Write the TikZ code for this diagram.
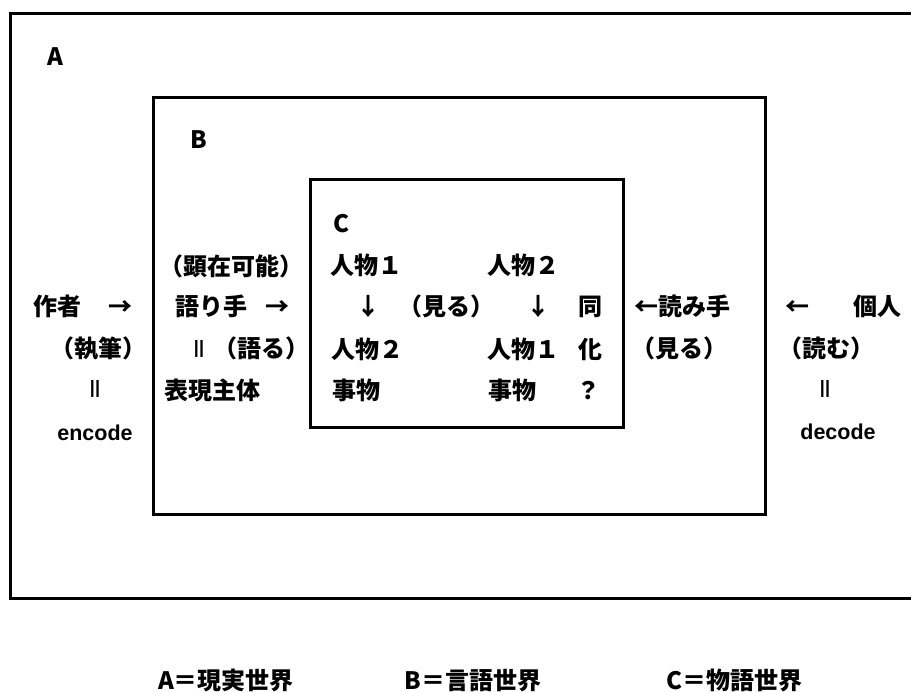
\documentclass[tikz,border=0pt]{standalone}
\usepackage{fontspec}
\setmainfont{Noto Sans CJK JP}
\newfontfamily\latfont{Liberation Sans}
\begin{document}
\begin{tikzpicture}[x=1pt,y=-1pt,
  box/.style={draw=black,line width=3pt},
  jt/.style={inner sep=0pt,font=\fontsize{24}{24}\selectfont\bfseries,text height=21pt,text depth=3pt},
  lt/.style={inner sep=0pt,font=\fontsize{21.5}{21.5}\selectfont\latfont\bfseries,text height=19pt,text depth=2.5pt},
  eqs/.style={inner sep=0pt,font=\fontsize{18}{18}\selectfont\latfont\bfseries,text height=13.1pt,text depth=3.8pt}]
\useasboundingbox (0,0) rectangle (911,692);
\clip (0,0) rectangle (911,692);
% boxes
\draw[box] (930,14) -- (10,14) -- (10,598) -- (930,598);
\draw[box] (153,98) rectangle (765,515);
\draw[box] (310,180) rectangle (623,428);
% box labels
\node[jt] (lA) at (55,57) {A};
\node[jt] (lB) at (199,140) {B};
\node[jt] (lC) at (342,224) {C};
% row 1
\node[jt] (kenzai) at (231,267) {（顕在可能）};
\node[jt] (c11) at (366,266) {人物１};
\node[jt] (c12) at (523,266) {人物２};
% row 2
\node[jt] (sakusha) at (57,307) {作者};
\node[jt] (ar1) at (120,307) {→};
\node[jt] (katarite) at (211,307) {語り手};
\node[jt] (ar2) at (277,307) {→};
\node[jt] (dn1) at (368,307) {↓};
\node[jt] (miru1) at (446,307) {（見る）};
\node[jt] (dn2) at (538,307) {↓};
\node[jt] (dou) at (590,307) {同};
\node[jt] (yomite) at (682,307) {←読み手};
\node[jt] (ar3) at (797,307) {←};
\node[jt] (kojin) at (877,307) {個人};
% row 3
\node[jt] (shippitsu) at (98,349) {（執筆）};
\node[eqs] (eq1) at (199,349) {||};
\node[jt] (kataru) at (261,349) {（語る）};
\node[jt] (c21) at (367,350) {人物２};
\node[jt] (c22) at (523,350) {人物１};
\node[jt] (ka) at (590,350) {化};
\node[jt] (miru2) at (679,349) {（見る）};
\node[jt] (yomu) at (826,349) {（読む）};
% row 4
\node[eqs] (eq2) at (95,389) {||};
\node[jt] (hyogen) at (212,391) {表現主体};
\node[jt] (c31) at (356,391) {事物};
\node[jt] (c32) at (512,391) {事物};
\node[jt] (q) at (588,391) {？};
\node[eqs] (eq3) at (825,389) {||};
% row 5
\node[lt] (enc) at (95,432) {encode};
\node[lt] (dec) at (838,431) {decode};
% legend
\node[jt] (legA) at (226,680) {A＝現実世界};
\node[jt] (legB) at (473,680) {B＝言語世界};
\node[jt] (legC) at (734,680) {C＝物語世界};
\end{tikzpicture}
\end{document}
